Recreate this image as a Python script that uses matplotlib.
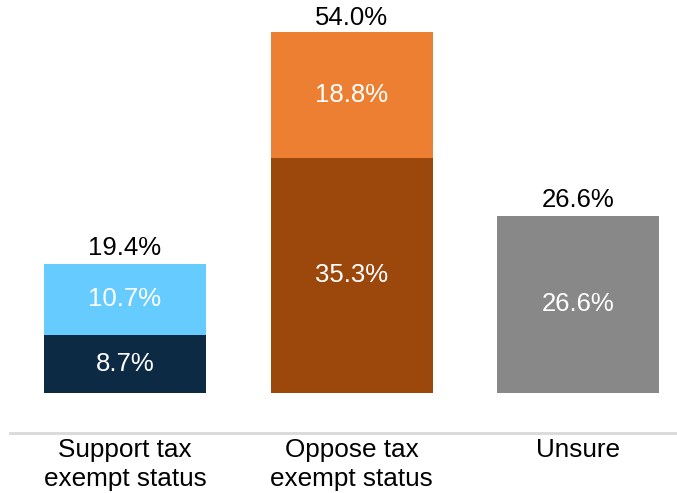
import matplotlib.pyplot as plt

plt.rcParams["font.family"] = ["Liberation Sans", "DejaVu Sans"]

# data
categories = ["Support tax\nexempt status", "Oppose tax\nexempt status", "Unsure"]
base_values = [8.7, 35.3, 26.6]
top_values = [10.7, 18.8, 0.0]
totals = [19.4, 54.0, 26.6]

base_colors = ["#0D2A45", "#9C470C", "#888888"]
top_colors = ["#66CCFF", "#ED7F33", "#888888"]

fig = plt.figure(figsize=(6.77, 4.93), dpi=100)
ax = fig.add_axes([10 / 677, 1 - 433 / 493, 667 / 677, 433 / 493])

x = list(range(len(categories)))
width = 0.715

ax.bar(x, base_values, width=width, color=base_colors)
ax.bar(x, top_values, width=width, bottom=base_values, color=top_colors)

# segment labels
for i in x:
    ax.text(i, base_values[i] / 2, f"{base_values[i]:.1f}%", ha="center", va="center",
            color="white", fontsize=18.5)
    if top_values[i] > 0:
        ax.text(i, base_values[i] + top_values[i] / 2, f"{top_values[i]:.1f}%",
                ha="center", va="center", color="white", fontsize=18.5)
    ax.annotate(f"{totals[i]:.1f}%", (i, totals[i]), xytext=(0, 2.5),
                textcoords="offset points", ha="center", va="bottom",
                color="black", fontsize=18.5)

ax.set_xlim(-0.508, 2.437)
ax.set_ylim(-6.0, 58.95)

for side in ["top", "right", "left"]:
    ax.spines[side].set_visible(False)
ax.spines["bottom"].set_color("#D9D9D9")
ax.spines["bottom"].set_linewidth(2)

ax.set_yticks([])
ax.set_xticks(x)
ax.set_xticklabels(categories, fontsize=18.8, linespacing=1.25)
ax.tick_params(axis="x", length=0, pad=3.5)

fig.savefig("out.png", dpi=100)
